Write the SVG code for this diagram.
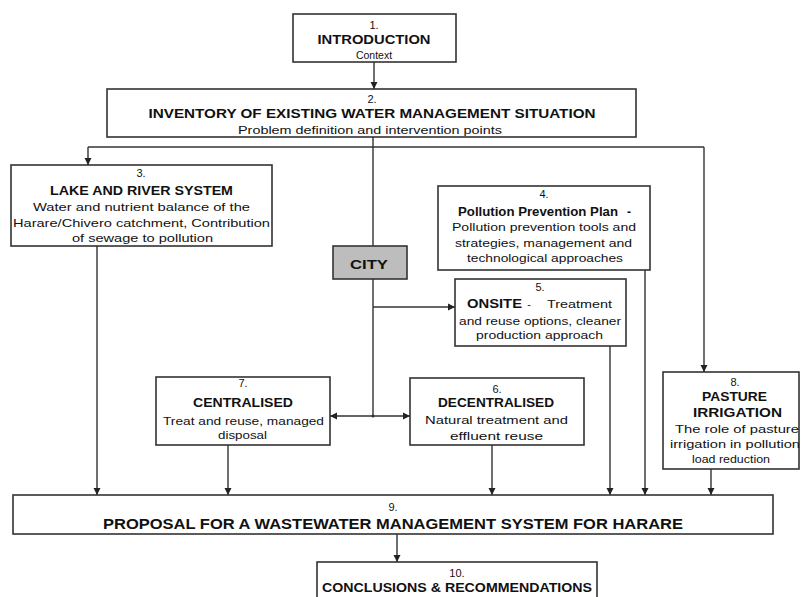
<svg xmlns="http://www.w3.org/2000/svg" width="801" height="597" viewBox="0 0 801 597">
<defs>
<marker id="ah" markerUnits="userSpaceOnUse" markerWidth="8" markerHeight="8" refX="7" refY="4" orient="auto">
<path d="M0,0.5 L7,4 L0,7.5 z" fill="#222"/>
</marker>
<style>
.box{fill:#fff;stroke:#333;stroke-width:1.6}
.city{fill:#bdbdbd;stroke:#333;stroke-width:1.6}
.ln{fill:none;stroke:#333;stroke-width:1.4}
text{font-family:"Liberation Sans",Arial,sans-serif;fill:#111;text-anchor:middle}
.b{font-weight:bold;font-size:12px}
.n{font-size:10.5px}
.num{font-size:11px}
.big{font-weight:bold;font-size:15px}
</style>
</defs>
<rect width="801" height="597" fill="#fff"/>
<g id="connectors">
<path class="ln" d="M374,62 V89" marker-end="url(#ah)"/>
<path class="ln" d="M373,137 V246"/>
<path class="ln" d="M88,147 H704"/>
<path class="ln" d="M88,147 V165" marker-end="url(#ah)"/>
<path class="ln" d="M704,147 V372" marker-end="url(#ah)"/>
<path class="ln" d="M373,279 V416"/>
<path class="ln" d="M373,307 H455" marker-end="url(#ah)"/>
<path class="ln" d="M373,416 H330" marker-end="url(#ah)"/>
<path class="ln" d="M373,416 H410" marker-end="url(#ah)"/>
<circle cx="373" cy="416" r="1.5" fill="#333"/>
<path class="ln" d="M97,246 V495" marker-end="url(#ah)"/>
<path class="ln" d="M228,445 V495" marker-end="url(#ah)"/>
<path class="ln" d="M492,445 V495" marker-end="url(#ah)"/>
<path class="ln" d="M610,346 V495" marker-end="url(#ah)"/>
<path class="ln" d="M645,270 V495" marker-end="url(#ah)"/>
<path class="ln" d="M711,469 V495" marker-end="url(#ah)"/>
<path class="ln" d="M397,534 V562" marker-end="url(#ah)"/>
</g>
<g id="n1">
<rect class="box" x="293" y="14" width="163" height="48"/>
<text class="num" x="374" y="29">1.</text>
<text class="b" x="374" y="43.5" textLength="113" lengthAdjust="spacingAndGlyphs">INTRODUCTION</text>
<text class="n" x="374" y="58.5" font-size="11">Context</text>
</g>
<g id="n2">
<rect class="box" x="107" y="89" width="529" height="48"/>
<text class="num" x="372" y="103">2.</text>
<text class="b" x="372" y="117.5" textLength="447" lengthAdjust="spacingAndGlyphs">INVENTORY OF EXISTING WATER MANAGEMENT SITUATION</text>
<text class="n" x="370" y="134" textLength="264" lengthAdjust="spacingAndGlyphs">Problem definition and intervention points</text>
</g>
<g id="n3">
<rect class="box" x="11" y="165" width="261" height="81"/>
<text class="num" x="141" y="177">3.</text>
<text class="b" x="141.5" y="195" textLength="183" lengthAdjust="spacingAndGlyphs">LAKE AND RIVER SYSTEM</text>
<text class="n" x="141.5" y="210.5" textLength="217" lengthAdjust="spacingAndGlyphs">Water and nutrient balance of the</text>
<text class="n" x="141.5" y="226.5" textLength="257" lengthAdjust="spacingAndGlyphs">Harare/Chivero catchment, Contribution</text>
<text class="n" x="142.5" y="241.5" textLength="141" lengthAdjust="spacingAndGlyphs">of sewage to pollution</text>
</g>
<g id="city">
<rect class="city" x="333" y="246" width="74" height="33"/>
<text class="b" x="369" y="269" textLength="38" lengthAdjust="spacingAndGlyphs">CITY</text>
</g>
<g id="n4">
<rect class="box" x="438" y="186" width="212" height="84"/>
<text class="num" x="544" y="198">4.</text>
<text class="b" x="538" y="216" font-size="11" textLength="160" lengthAdjust="spacingAndGlyphs">Pollution Prevention Plan</text>
<text class="b" x="629" y="216" font-size="11">-</text>
<text class="n" x="544" y="230.5" textLength="184" lengthAdjust="spacingAndGlyphs">Pollution prevention tools and</text>
<text class="n" x="543.5" y="246.5" textLength="177" lengthAdjust="spacingAndGlyphs">strategies, management and</text>
<text class="n" x="545" y="261.5" textLength="156" lengthAdjust="spacingAndGlyphs">technological approaches</text>
</g>
<g id="n5">
<rect class="box" x="455" y="279" width="171" height="67"/>
<text class="num" x="540" y="291">5.</text>
<text class="b" x="494.5" y="308" textLength="55" lengthAdjust="spacingAndGlyphs">ONSITE</text>
<text class="n" x="529" y="308">-</text>
<text class="n" x="579.5" y="308" textLength="65" lengthAdjust="spacingAndGlyphs">Treatment</text>
<text class="n" x="540" y="324.5" textLength="162" lengthAdjust="spacingAndGlyphs">and reuse options, cleaner</text>
<text class="n" x="539.5" y="338.5" textLength="127" lengthAdjust="spacingAndGlyphs">production approach</text>
</g>
<g id="n7">
<rect class="box" x="156" y="377" width="174" height="68"/>
<text class="num" x="243" y="387">7.</text>
<text class="b" x="243" y="407" textLength="100" lengthAdjust="spacingAndGlyphs">CENTRALISED</text>
<text class="n" x="243.5" y="424.5" textLength="161" lengthAdjust="spacingAndGlyphs">Treat and reuse, managed</text>
<text class="n" x="242.5" y="438.5" textLength="49" lengthAdjust="spacingAndGlyphs">disposal</text>
</g>
<g id="n6">
<rect class="box" x="410" y="378" width="174" height="67"/>
<text class="num" x="497" y="393">6.</text>
<text class="b" x="496" y="407" textLength="116" lengthAdjust="spacingAndGlyphs">DECENTRALISED</text>
<text class="n" x="496.5" y="423.5" textLength="143" lengthAdjust="spacingAndGlyphs">Natural treatment and</text>
<text class="n" x="496.5" y="439.5" textLength="93" lengthAdjust="spacingAndGlyphs">effluent reuse</text>
</g>
<g id="n8">
<rect class="box" x="663" y="372" width="136" height="97"/>
<text class="num" x="735" y="385.5">8.</text>
<text class="b" x="734.5" y="401" textLength="65" lengthAdjust="spacingAndGlyphs">PASTURE</text>
<text class="b" x="737.5" y="417" textLength="89" lengthAdjust="spacingAndGlyphs">IRRIGATION</text>
<text class="n" x="737" y="432.5" textLength="124" lengthAdjust="spacingAndGlyphs">The role of pasture</text>
<text class="n" x="735" y="447.5" textLength="130" lengthAdjust="spacingAndGlyphs">irrigation in pollution</text>
<text class="n" x="731" y="462.5" textLength="78" lengthAdjust="spacingAndGlyphs">load reduction</text>
</g>
<g id="n9">
<rect class="box" x="13" y="495" width="760" height="39"/>
<text class="num" x="393" y="511" font-size="12">9.</text>
<text class="big" x="393" y="528.5" textLength="580" lengthAdjust="spacingAndGlyphs">PROPOSAL FOR A WASTEWATER MANAGEMENT SYSTEM FOR HARARE</text>
</g>
<g id="n10">
<rect class="box" x="317" y="562" width="280" height="40"/>
<text class="num" x="457" y="577">10.</text>
<text class="b" x="457" y="591.5" textLength="270" lengthAdjust="spacingAndGlyphs">CONCLUSIONS &amp; RECOMMENDATIONS</text>
</g>
</svg>
